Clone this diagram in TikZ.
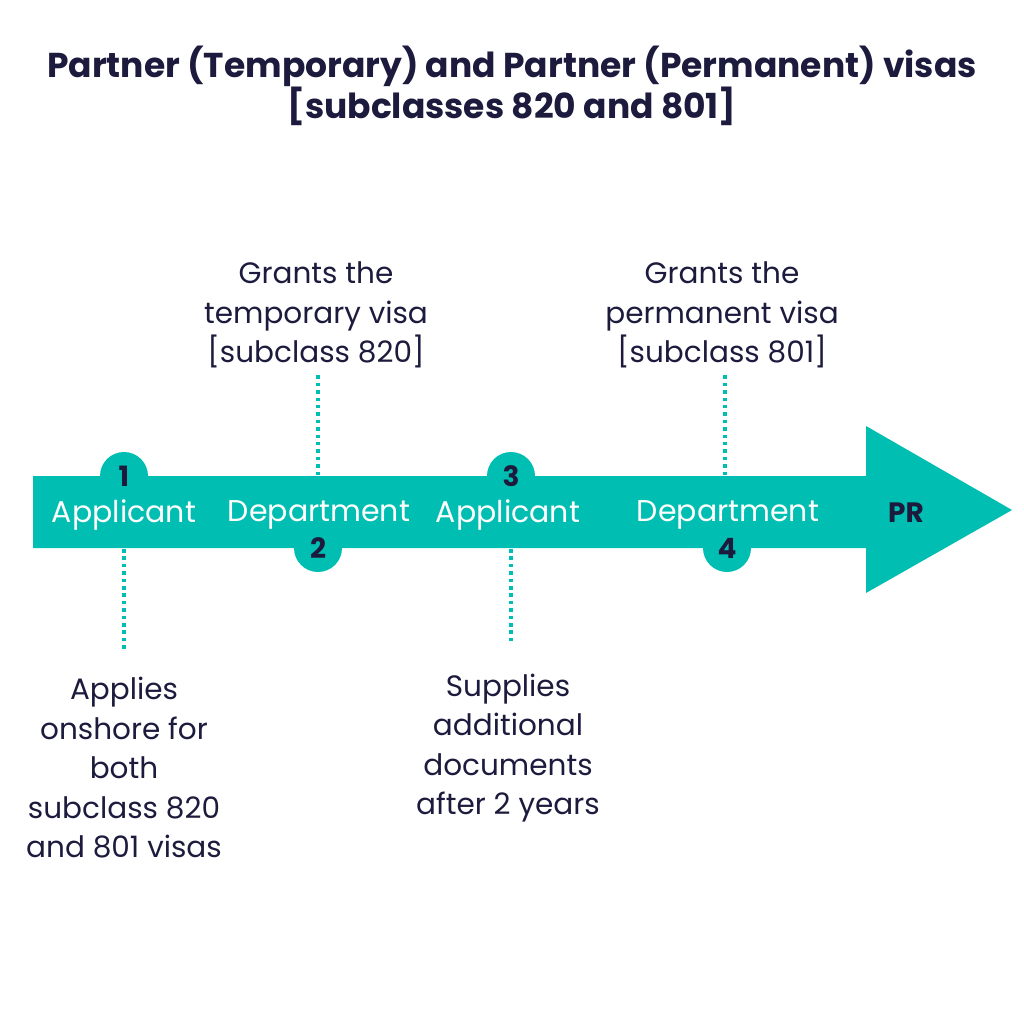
\documentclass[tikz,border=0pt]{standalone}
\usepackage{fontspec}
\setmainfont{Poppins}
\usetikzlibrary{positioning}
\definecolor{visateal}{RGB}{0,190,178}
\definecolor{visanavy}{RGB}{28,27,61}

\begin{document}
\begin{tikzpicture}[
    x=1pt, y=-1pt,
    note/.style={
        align=center,
        text=visanavy,
        font=\fontsize{29.5}{39.5}\selectfont
    },
    steplabel/.style={text=white, font=\fontsize{30}{34}\selectfont},
    stepnum/.style={
        circle,
        fill=visateal,
        minimum size=48pt,
        inner sep=0pt,
        text=visanavy,
        font=\fontsize{28}{30}\selectfont\bfseries
    },
    dotline/.style={visateal, line width=3.5pt, dash pattern=on 3.5pt off 3.9pt}
]
\useasboundingbox (0,0) rectangle (1024,1024);

\node[font=\fontsize{34.5}{40}\selectfont\bfseries, text=visanavy, align=center] (title) at (512,86)
    {Partner (Temporary) and Partner (Permanent) visas\\ {[subclasses 820 and 801]}};

% notes above and below the timeline
\node[note] (grant820) at (316,315) {Grants the\\ temporary visa\\ {[subclass 820]}};
\node[note] (grant801) at (722,315) {Grants the\\ permanent visa\\ {[subclass 801]}};
\node[note] (applies) at (124,768) {Applies\\ onshore for\\ both\\ subclass 820\\ and 801 visas};
\node[note] (supplies) at (508,748) {Supplies\\ additional\\ documents\\ after 2 years};

\coordinate (s1) at (124,512);
\coordinate (s2) at (318,512);
\coordinate (s3) at (511,512);
\coordinate (s4) at (725,512);
\coordinate (e1) at (124,650);
\coordinate (e2) at (318,372);
\coordinate (e3) at (511,645);
\coordinate (e4) at (725,372);

\draw[dotline] (s1) -- (e1);
\draw[dotline] (s2) -- (e2);
\draw[dotline] (s3) -- (e3);
\draw[dotline] (s4) -- (e4);

% the timeline arrow
\fill[visateal] (33,476) -- (866,476) -- (866,426) -- (1012,510) -- (866,593) -- (866,548) -- (33,548) -- cycle;

\node[stepnum] (num1) at (124,476) {1};
\node[stepnum] (num2) at (318,548) {2};
\node[stepnum] (num3) at (511,476) {3};
\node[stepnum] (num4) at (727,548) {4};

\node[steplabel] (app1) at (124,515) {Applicant};
\node[steplabel] (dep2) at (319,515) {Department};
\node[steplabel] (app3) at (508,515) {Applicant};
\node[steplabel] (dep4) at (728,515) {Department};
\node[text=visanavy, font=\fontsize{28}{30}\selectfont\bfseries] (pr) at (906,513) {PR};

\end{tikzpicture}
\end{document}
